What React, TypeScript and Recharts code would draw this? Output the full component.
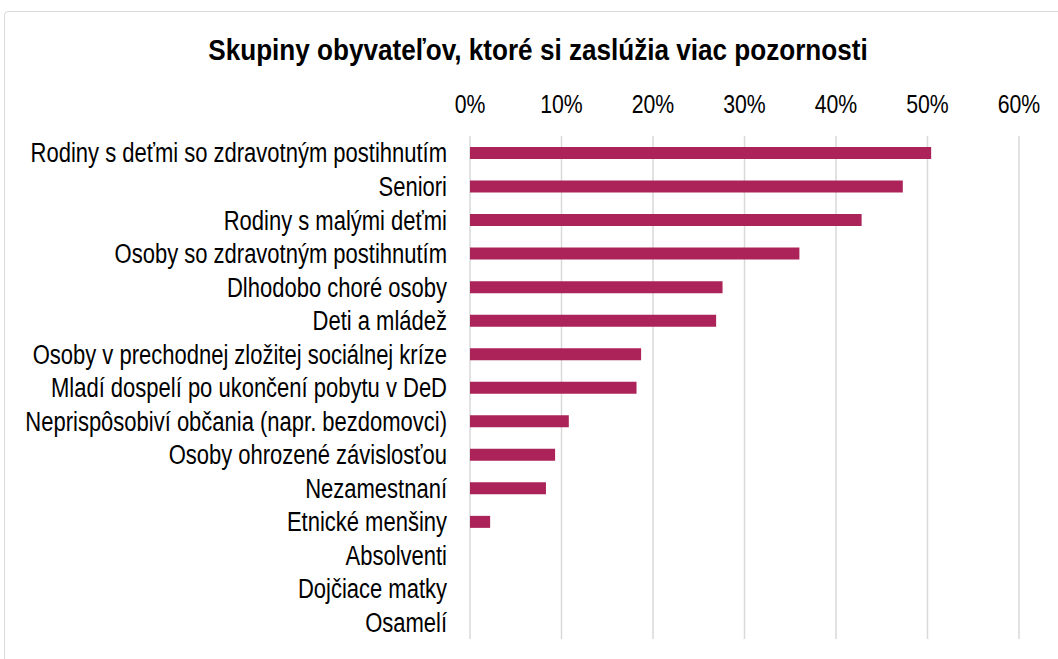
import React from 'react';
import { BarChart, Bar, XAxis, YAxis, CartesianGrid } from 'recharts';

const groups = [
  'Rodiny s deťmi so zdravotným postihnutím',
  'Seniori',
  'Rodiny s malými deťmi',
  'Osoby so zdravotným postihnutím',
  'Dlhodobo choré osoby',
  'Deti a mládež',
  'Osoby v prechodnej zložitej sociálnej kríze',
  'Mladí dospelí po ukončení pobytu v DeD',
  'Neprispôsobiví občania (napr. bezdomovci)',
  'Osoby ohrozené závislosťou',
  'Nezamestnaní',
  'Etnické menšiny',
  'Absolventi',
  'Dojčiace matky',
  'Osamelí',
];

const shares = [
  0.504, 0.473, 0.428, 0.36, 0.276, 0.269, 0.187, 0.182, 0.108, 0.093, 0.083, 0.022, 0, 0, 0,
];

const pctTicks = [0, 0.1, 0.2, 0.3, 0.4, 0.5, 0.6];

const data = groups.map((name, i) => ({ name, value: shares[i] }));

const font = "'Liberation Sans', Arial, sans-serif";

// no narrow font installed, so squeeze the regular one horizontally
const CategoryTick = (props: any) => {
  const { x, y, payload } = props;
  return (
    <text
      transform={`translate(${x},${y}) scale(0.815,1)`}
      textAnchor="end"
      dy="0.36em"
      fill="#000"
      fontSize={27}
      fontFamily={font}
    >
      {payload.value}
    </text>
  );
};

const PctTick = (props: any) => {
  const { x, y, payload } = props;
  return (
    <text
      transform={`translate(${x},${y}) scale(0.85,1)`}
      textAnchor="middle"
      fill="#000"
      fontSize={25}
      fontFamily={font}
    >
      {`${Math.round(payload.value * 100)}%`}
    </text>
  );
};

const App = () => (
  <div
    style={{
      position: 'absolute',
      left: 0,
      top: 0,
      width: 1058,
      height: 659,
      overflow: 'hidden',
      background: '#fff',
      fontFamily: font,
    }}
  >
    <div
      style={{
        position: 'absolute',
        left: 4,
        top: 11,
        width: 1200,
        height: 800,
        border: '1px solid #d9d9d9',
        borderRadius: 4,
      }}
    />
    <div
      style={{
        position: 'absolute',
        left: 0,
        top: 31,
        width: 1076,
        textAlign: 'center',
        fontSize: 30,
        fontWeight: 'bold',
        color: '#000',
        lineHeight: '38px',
        transform: 'scaleX(0.87)',
        transformOrigin: '538px 0',
      }}
    >
      Skupiny obyvateľov, ktoré si zaslúžia viac pozornosti
    </div>
    <div style={{ position: 'absolute', left: 0, top: 0 }}>
      <BarChart
        width={1058}
        height={659}
        data={data}
        layout="vertical"
        margin={{ top: 96, right: 39, bottom: 20, left: 10 }}
      >
        <CartesianGrid horizontal={false} stroke="#d9d9d9" strokeWidth={1.5} />
        <XAxis
          type="number"
          orientation="top"
          domain={[0, 0.6]}
          ticks={pctTicks}
          axisLine={false}
          tickLine={false}
          height={40}
          tickMargin={17}
          tick={<PctTick />}
        />
        <YAxis
          type="category"
          dataKey="name"
          width={460}
          axisLine={false}
          tickLine={false}
          tickMargin={17}
          interval={0}
          tick={<CategoryTick />}
        />
        <Bar dataKey="value" fill="#ab2359" barSize={12} isAnimationActive={false} />
      </BarChart>
    </div>
  </div>
);

export default App;
